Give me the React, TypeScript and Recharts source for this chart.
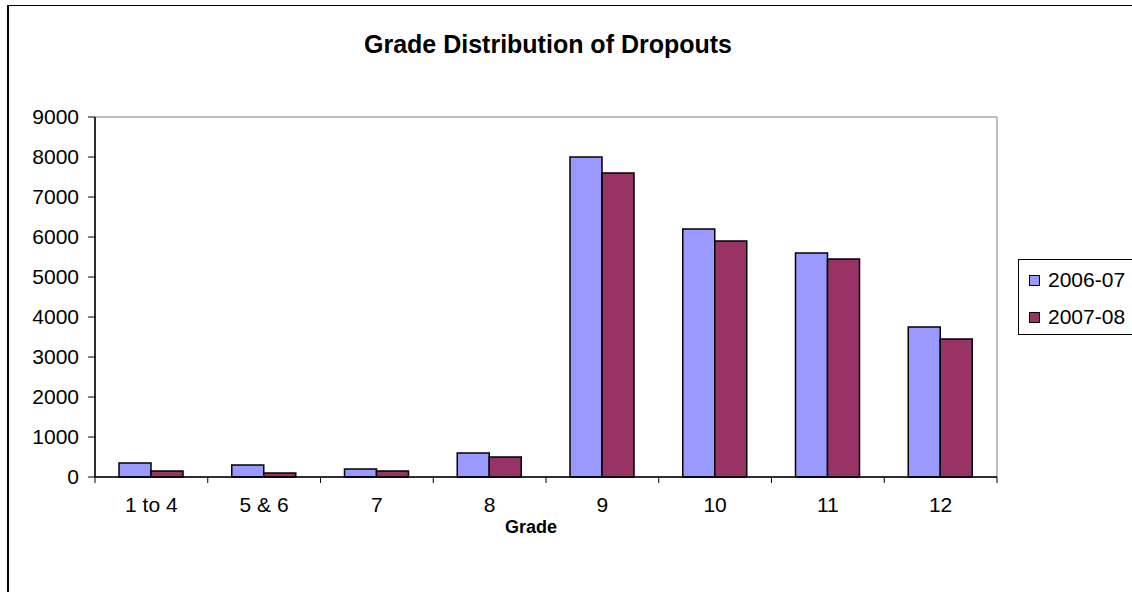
import React from 'react';
import { BarChart, Bar, XAxis, YAxis, ReferenceArea, Label } from 'recharts';

const grades = ['1 to 4', '5 & 6', '7', '8', '9', '10', '11', '12'];
const dropouts0607 = [350, 300, 200, 600, 8000, 6200, 5600, 3750];
const dropouts0708 = [150, 100, 150, 500, 7600, 5900, 5450, 3450];
const yTicks = [0, 1000, 2000, 3000, 4000, 5000, 6000, 7000, 8000, 9000];

const series = [
  { key: 'y0607', name: '2006-07', color: '#9999FF' },
  { key: 'y0708', name: '2007-08', color: '#993366' },
];

const data = grades.map((g, i) => ({
  grade: g,
  y0607: dropouts0607[i],
  y0708: dropouts0708[i],
}));

const FONT = '"Liberation Sans", Arial, sans-serif';

// excel style: tick marks sit between categories, labels at the centre
const GradeTick = (props: any) => {
  const { x, y, payload, index } = props;
  const half = payload.offset || 0;
  const top = y - 8;
  return (
    <g>
      <line x1={x - half} y1={top} x2={x - half} y2={top + 6} stroke="#000" strokeWidth={1} />
      {index === grades.length - 1 && (
        <line x1={x + half} y1={top} x2={x + half} y2={top + 6} stroke="#000" strokeWidth={1} />
      )}
      <text x={x} y={y + 27} textAnchor="middle" fontSize={21} fill="#000" fontFamily={FONT}>
        {payload.value}
      </text>
    </g>
  );
};

export default function App() {
  return (
    <div style={{ position: 'fixed', left: 0, top: 0, width: 1132, height: 592, background: '#fff', overflow: 'hidden', fontFamily: FONT }}>
      <div style={{ position: 'absolute', left: 7, top: 5, width: 1200, height: 700, border: '1px solid #000', borderLeftWidth: 2 }} />
      <div style={{ position: 'absolute', left: 0, width: 1096, top: 30, textAlign: 'center', fontSize: 25, fontWeight: 'bold', color: '#000' }}>
        Grade Distribution of Dropouts
      </div>
      <div style={{ position: 'absolute', left: 0, top: 0 }}>
        <BarChart
          width={1132}
          height={592}
          data={data}
          margin={{ top: 117, right: 135, bottom: 55, left: 15 }}
          barGap={0}
          barSize={32}
        >
          <ReferenceArea y1={0} y2={9000} fill="none" stroke="#808080" strokeWidth={1} ifOverflow="visible" />
          <XAxis
            dataKey="grade"
            height={60}
            axisLine={{ stroke: '#000', strokeWidth: 1.5 }}
            tickLine={false}
            tick={<GradeTick />}
            interval={0}
          >
            <Label
              value="Grade"
              position="insideBottom"
              offset={4}
              dx={-15}
              style={{ fontSize: 18, fontWeight: 'bold', fill: '#000', fontFamily: FONT }}
            />
          </XAxis>
          <YAxis
            width={80}
            domain={[0, 9000]}
            ticks={yTicks}
            interval={0}
            axisLine={{ stroke: '#000', strokeWidth: 1.5 }}
            tickLine={{ stroke: '#000' }}
            tickSize={7}
            tickMargin={9}
            tick={{ fontSize: 21, fill: '#000', fontFamily: FONT }}
          />
          {series.map((s) => (
            <Bar
              key={s.key}
              dataKey={s.key}
              name={s.name}
              fill={s.color}
              stroke="#000"
              strokeWidth={1.5}
              isAnimationActive={false}
            />
          ))}
        </BarChart>
      </div>
      <div style={{ position: 'absolute', left: 1018, top: 259, width: 130, height: 74, border: '1px solid #000', background: '#fff' }}>
        {series.map((s, i) => (
          <div key={s.key} style={{ position: 'absolute', left: 10, top: 8 + i * 37, height: 24, display: 'flex', alignItems: 'center' }}>
            <span style={{ width: 9, height: 9, background: s.color, border: '1px solid #000', display: 'inline-block', marginRight: 8 }} />
            <span style={{ fontSize: 21, color: '#000' }}>{s.name}</span>
          </div>
        ))}
      </div>
    </div>
  );
}
